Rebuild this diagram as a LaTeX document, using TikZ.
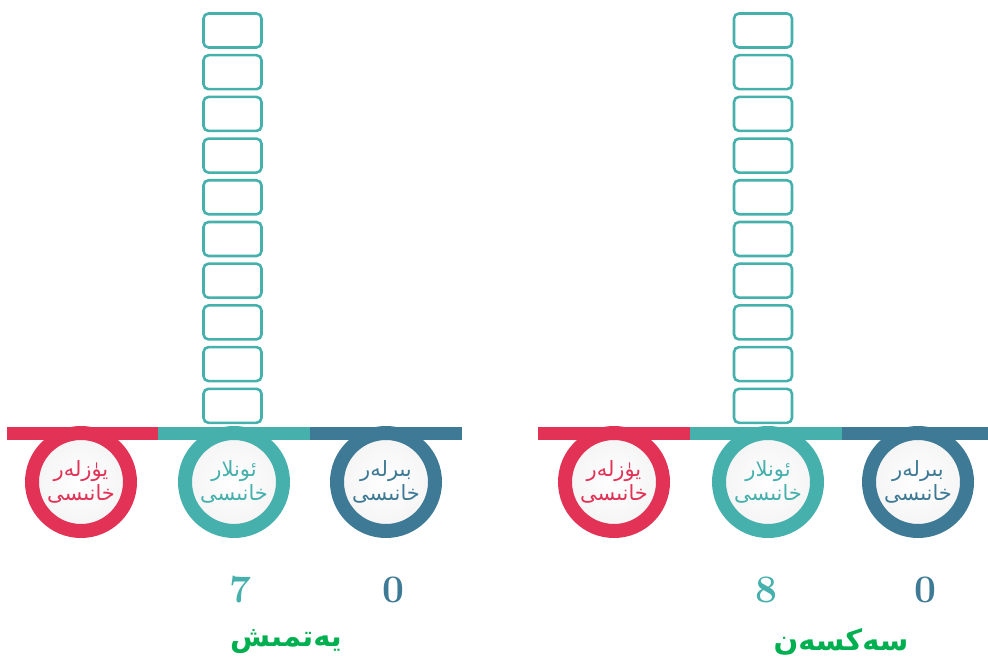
\documentclass[tikz,border=0pt]{standalone}
\usepackage{fontspec}
\usepackage{tikz}
\newfontfamily\uyfont[Script=Arabic]{DejaVu Sans}
\TeXXeTstate=1
\definecolor{plred}{RGB}{226,50,86}
\definecolor{plteal}{RGB}{69,176,172}
\definecolor{plblue}{RGB}{62,122,150}
\definecolor{plgreen}{RGB}{0,176,80}

\begin{document}
\begin{tikzpicture}[x=1pt, y=-1pt,
  cell/.style={draw=plteal, line width=2.6pt, rounded corners=5pt,
      minimum width=58pt, minimum height=34pt, inner sep=0pt},
  ring/.style={circle, line width=14pt, minimum size=98pt, inner sep=0pt,
      inner color=white, outer color=gray!9, align=center,
      font=\uyfont\fontsize{21}{24}\selectfont},
  digit/.style={font=\fontsize{39}{40}\selectfont\bfseries},
  title/.style={font=\uyfont\bfseries\fontsize{29}{32}\selectfont, text=plgreen}]
\useasboundingbox (0,0) rectangle (988,668);
% Place-value columns (left: 70, right: 80)
\foreach \i in {1,...,10}{
  \node[cell] (boxL\i) at (232.5,{-11.2+41.7*\i}) {};
  \node[cell] (boxR\i) at (763,{-11.2+41.7*\i}) {};
}
% Place circles
\node[ring, draw=plred, text=plred] (hundL) at (81,482)
  {\beginR يۈزلەر\endR\\\beginR خانىسى\endR};
\node[ring, draw=plteal, text=plteal] (tensL) at (234,482)
  {\beginR ئونلار\endR\\\beginR خانىسى\endR};
\node[ring, draw=plblue, text=plblue] (onesL) at (386,482)
  {\beginR بىرلەر\endR\\\beginR خانىسى\endR};
\node[ring, draw=plred, text=plred] (hundR) at (614,482)
  {\beginR يۈزلەر\endR\\\beginR خانىسى\endR};
\node[ring, draw=plteal, text=plteal] (tensR) at (768,482)
  {\beginR ئونلار\endR\\\beginR خانىسى\endR};
\node[ring, draw=plblue, text=plblue] (onesR) at (918,482)
  {\beginR بىرلەر\endR\\\beginR خانىسى\endR};
% Stripes
\fill[plred] (7,427) rectangle (158,440);
\fill[plteal] (158,427) rectangle (310,440);
\fill[plblue] (310,427) rectangle (462,440);
\fill[plred] (538,427) rectangle (690,440);
\fill[plteal] (690,427) rectangle (842,440);
\fill[plblue] (842,427) rectangle (988,440);
% Digits
\node[digit, text=plteal] (tensNumL) at (240,590) {7};
\node[digit, text=plblue] (onesNumL) at (393,590) {0};
\node[digit, text=plteal] (tensNumR) at (766,590) {8};
\node[digit, text=plblue] (onesNumR) at (925,590) {0};
% Number words
\node[title] (wordL) at (286,642) {\beginR يەتمىش\endR};
\node[title] (wordR) at (841,642) {\beginR سەكسەن\endR};
\end{tikzpicture}
\end{document}
